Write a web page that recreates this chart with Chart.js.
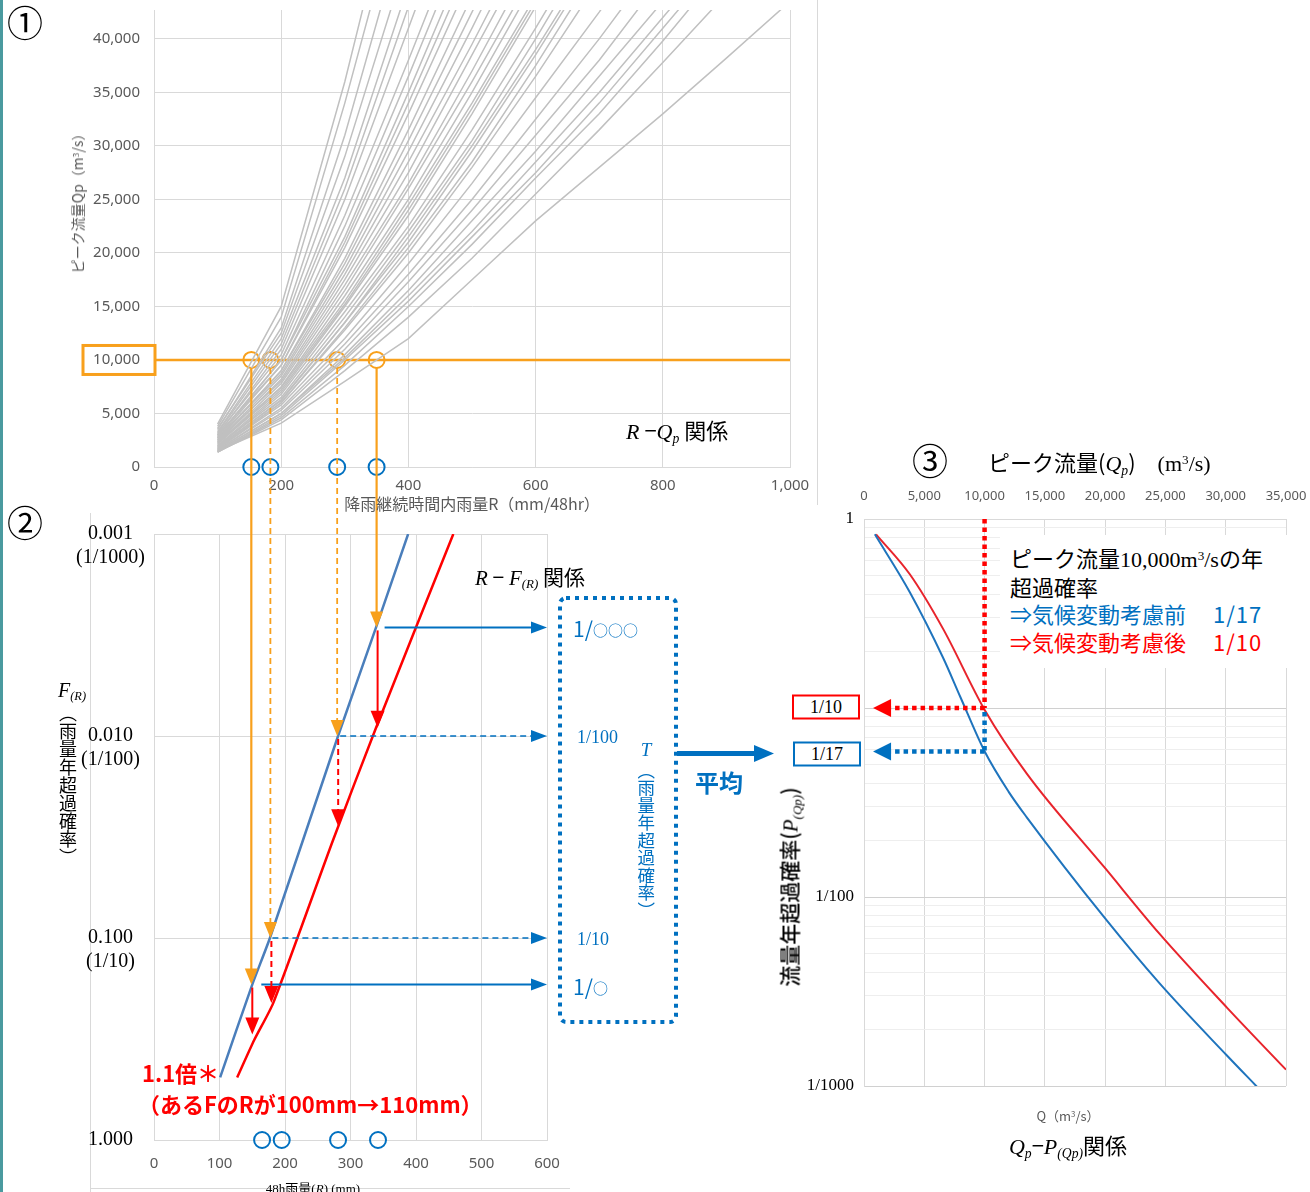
<!DOCTYPE html>
<html><head><meta charset="utf-8">
<script src="https://cdn.jsdelivr.net/npm/chart.js@4/dist/chart.umd.min.js"></script>
<style>
html,body{margin:0;padding:0;background:#fff;}
#root{position:relative;width:1310px;height:1192px;overflow:hidden;background:#fff;font-family:"Noto Sans CJK JP","Noto Sans",sans-serif;color:#000;}
canvas{position:absolute;}
.t{position:absolute;white-space:nowrap;line-height:1;}
.c{transform:translate(-50%,-50%);}
.lc{transform:translateY(-50%);}
.rot{transform:translate(-50%,-50%) rotate(-90deg);}
.v{writing-mode:vertical-rl;transform:translate(-50%,-50%);}
.serif{font-family:"Liberation Serif","Noto Sans CJK JP",serif;}
sub{font-size:0.62em;vertical-align:-0.3em;line-height:0;}
sup{font-size:0.6em;vertical-align:0.5em;line-height:0;}
</style></head>
<body><div id="root">
<div style="position:absolute;left:0;top:0;width:3px;height:1192px;background:#4a9a9f"></div>
<div style="position:absolute;left:817px;top:0;width:1px;height:505px;background:#d9d9d9"></div>
<div style="position:absolute;left:90px;top:513px;width:1px;height:679px;background:#d9d9d9"></div>
<div style="position:absolute;left:90px;top:1188px;width:480px;height:1px;background:#d9d9d9"></div>
<canvas id="c1" width="817" height="510" style="left:0;top:0"></canvas>
<canvas id="c2" width="560" height="677" style="left:0;top:515px"></canvas>
<canvas id="c3" width="540" height="722" style="left:770px;top:470px"></canvas>
<canvas id="ov" width="1310" height="1192" style="left:0;top:0;pointer-events:none"></canvas>
</div>
<script>
// ---------- ① R - Qp ----------
const rqRain = [100, 200, 300, 400, 500, 600, 700, 800, 900, 1000];
const rqCurves = [
  [4000, 15000, 36000, 60000],
  [3800, 14000, 34000, 56000],
  [3500, 13000, 31000, 52000],
  [3600, 12500, 29000, 48000],
  [3300, 12000, 27000, 45000],
  [3200, 11500, 26000, 43000],
  [3000, 11000, 25000, 41000, 57000],
  [3100, 10500, 23500, 38000, 53000],
  [2900, 10000, 22500, 36500, 51000],
  [2800, 10000, 21500, 35000, 49000],
  [3000, 9500, 21000, 34000, 47500],
  [2700, 9500, 20500, 33000, 46000],
  [2600, 9000, 19500, 31500, 44000],
  [2500, 9000, 19000, 30500, 42500, 55000],
  [2700, 8700, 18500, 29500, 41000, 53000],
  [2400, 8500, 18000, 28500, 39500, 51000],
  [2300, 8200, 17500, 27500, 38500, 49500],
  [2500, 8000, 17000, 26500, 37000, 48000],
  [2200, 7800, 16500, 26000, 36000, 46500],
  [2100, 7500, 16000, 25000, 35000, 45500],
  [2300, 7400, 15500, 24500, 34000, 44000],
  [2000, 7000, 15000, 23500, 33000, 43000],
  [2200, 7200, 15200, 24000, 33500, 43500],
  [1900, 6800, 14500, 22500, 31500, 41000, 51000],
  [2000, 6500, 14000, 22000, 30500, 40000, 50000],
  [1800, 6300, 13500, 21500, 30000, 39000, 48500],
  [1900, 6200, 13500, 21000, 29500, 38500, 48000],
  [1700, 6000, 13000, 20500, 28500, 37500, 47000],
  [1800, 6000, 12800, 20000, 28000, 36500, 45500],
  [1700, 5800, 12000, 19000, 26500, 34500, 42500, 51000],
  [1600, 5500, 11500, 18000, 25000, 32500, 40000, 48000],
  [1600, 5300, 11000, 17300, 24000, 31000, 38000, 45800],
  [1500, 5000, 10500, 16500, 23000, 29500, 36500, 43500],
  [1500, 5000, 10200, 16000, 22000, 28500, 35000, 42000, 49000],
  [1400, 4800, 10000, 15500, 21500, 27500, 34000, 41000, 48000],
  [1400, 4600, 9500, 15000, 20800, 27000, 33000, 39800, 47000],
  [1400, 4400, 9000, 14000, 19500, 25500, 31500, 37800, 44200],
  [1500, 4100, 8000, 12000, 17500, 23000, 28000, 33000, 38200, 43500]
];
const qpThreshold = 10000;
const qpTicks = [0, 5000, 10000, 15000, 20000, 25000, 30000, 35000, 40000];
const crossRain = [153, 183, 288, 350];
const crossDashed = [false, true, true, false];

// ---------- ② R - F(R) ----------
const rfRainBefore = [101, 150, 177, 281, 339, 388];
const rfProbBefore = [0.49, 0.17, 0.1, 0.01, 0.0029, 0.001];
const rfRainAfter = [127, 153, 182, 273, 339, 457];
const rfProbAfter = [0.49, 0.32, 0.21, 0.033, 0.0091, 0.001];
const fAtCross = [0.17, 0.1, 0.01, 0.0029];
const fAfterAtCross = [0.3, 0.21, 0.028, 0.0091];
const fBoxLabels = ['1/○', '1/10', '1/100', '1/○○○'];
const bottomCircleRain = [165, 195, 281, 342];
const fTicks = [0.001, 0.01, 0.1, 1];
const fTickLabels = [['0.001', '(1/1000)'], ['0.010', '(1/100)'], ['0.100', '(1/10)'], ['1.000', '']];

// ---------- ③ Qp - P(Qp) ----------
const qpBefore = [900, 3800, 6550, 8000, 10000, 12000, 13500, 20000, 24500, 30100, 32600];
const pBefore = [0.83, 0.41, 0.185, 0.114, 0.059, 0.036, 0.0264, 0.0077, 0.0035, 0.00145, 0.00099];
const qpAfter = [1000, 3800, 6550, 10000, 13500, 20000, 24500, 30100, 35000];
const pAfter = [0.83, 0.51, 0.263, 0.098, 0.045, 0.0142, 0.0064, 0.0026, 0.00122];
const pTicksMajor = [0.001, 0.01, 0.1, 1];
const pTickLabels = ['1/1000', '1/100', '', '1'];
const pBoxValues = [1 / 10, 1 / 17];
const pBoxLabels = ['1/10', '1/17'];
const qpArrowEnd = 750;

// ---------- styles ----------
const SANS = '"Noto Sans","Noto Sans CJK JP",sans-serif';
const SERIF = '"Liberation Serif","Noto Sans CJK JP",serif';
const GREYTXT = '#595959';
const GRID = '#d9d9d9';
const ORANGE = '#f8a01c';
const BLUE = '#0070c0';
const RED = '#ff0000';
const fmt = v => Number(v).toLocaleString('en-US');
function fixW(w) { return s => { s.width = w; s.paddingTop = 0; s.paddingBottom = 0; s.paddingLeft = 0; s.paddingRight = 0; }; }
function fixH(h) { return s => { s.height = h; s.paddingTop = 0; s.paddingBottom = 0; s.paddingLeft = 0; s.paddingRight = 0; }; }
const baseOpts = { responsive: false, animation: false, events: [], plugins: { legend: { display: false }, tooltip: { enabled: false } } };
function circles(points, color) {
  return { data: points, showLine: false, pointRadius: 8, pointBorderWidth: 2, borderColor: color, backgroundColor: 'rgba(0,0,0,0)', pointBackgroundColor: 'rgba(0,0,0,0)', pointBorderColor: color, clip: false };
}

// chart 1
const c1 = new Chart(document.getElementById('c1'), {
  type: 'scatter',
  data: { datasets: [
    ...rqCurves.map(vals => ({ data: vals.map((v, i) => ({ x: rqRain[i], y: v })), showLine: true, borderColor: '#c0c0c0', borderWidth: 1.5, pointRadius: 0 })),
    { data: [{ x: 0, y: qpThreshold }, { x: 1000, y: qpThreshold }], showLine: true, borderColor: ORANGE, borderWidth: 2.5, pointRadius: 0 },
    circles(crossRain.map(r => ({ x: r, y: qpThreshold })), ORANGE),
    circles(crossRain.map(r => ({ x: r, y: 0 })), BLUE)
  ] },
  options: Object.assign({}, baseOpts, {
    layout: { padding: { left: 0, top: 8, right: 27, bottom: 0 } },
    scales: {
      x: { type: 'linear', min: 0, max: 1000, ticks: { stepSize: 200, color: GREYTXT, font: { size: 15, family: SANS }, padding: 10, maxRotation: 0, callback: fmt }, grid: { color: GRID, drawTicks: false }, border: { color: GRID }, afterFit: fixH(43) },
      y: { type: 'linear', min: 0, max: 42700, afterBuildTicks: s => { s.ticks = qpTicks.map(v => ({ value: v })); }, ticks: { color: GREYTXT, font: { size: 15, family: SANS }, padding: 14, callback: fmt }, grid: { color: GRID, drawTicks: false }, border: { color: GRID }, afterFit: fixW(154) }
    }
  })
});

// chart 2
const c2 = new Chart(document.getElementById('c2'), {
  type: 'scatter',
  data: { datasets: [
    { data: rfRainBefore.map((r, i) => ({ x: r, y: rfProbBefore[i] })), showLine: true, borderColor: '#4a7ebb', borderWidth: 2.5, pointRadius: 0, tension: 0.2 },
    { data: rfRainAfter.map((r, i) => ({ x: r, y: rfProbAfter[i] })), showLine: true, borderColor: RED, borderWidth: 2.5, pointRadius: 0, tension: 0.2 },
    circles(bottomCircleRain.map(r => ({ x: r, y: 1 })), BLUE)
  ] },
  options: Object.assign({}, baseOpts, {
    layout: { padding: { left: 0, top: 19, right: 13, bottom: 0 } },
    scales: {
      x: { type: 'linear', min: 0, max: 600, ticks: { stepSize: 100, color: GREYTXT, font: { size: 15, family: SANS }, padding: 15, maxRotation: 0 }, grid: { color: GRID, drawTicks: false }, border: { color: GRID }, afterFit: fixH(52) },
      y: { type: 'logarithmic', min: 0.001, max: 1, reverse: true, afterBuildTicks: s => { s.ticks = fTicks.map(v => ({ value: v })); },
           ticks: { autoSkip: false, callback: (v, i) => fTickLabels[i], color: '#000', font: { size: 20, family: SERIF, lineHeight: 1.2 }, crossAlign: 'center', padding: 9, labelOffset: 12 },
           grid: { color: GRID, drawTicks: false }, border: { color: GRID }, afterFit: fixW(154) }
    }
  })
});

// chart 3
const pGrid = [];
pTicksMajor.slice(0, 3).forEach(d => { for (let k = 1; k <= 9; k++) pGrid.push(+(d * k).toPrecision(3)); });
pGrid.push(1);
const c3 = new Chart(document.getElementById('c3'), {
  type: 'scatter',
  data: { datasets: [
    { data: qpBefore.map((q, i) => ({ x: q, y: pBefore[i] })), showLine: true, borderColor: '#1f74bd', borderWidth: 2, pointRadius: 0, cubicInterpolationMode: 'monotone' },
    { data: qpAfter.map((q, i) => ({ x: q, y: pAfter[i] })), showLine: true, borderColor: '#e8242c', borderWidth: 2, pointRadius: 0, cubicInterpolationMode: 'monotone' }
  ] },
  options: Object.assign({}, baseOpts, {
    layout: { padding: { left: 0, top: 0, right: 24, bottom: 106 } },
    scales: {
      x: { type: 'linear', position: 'top', min: 0, max: 35000, ticks: { stepSize: 5000, color: GREYTXT, font: { size: 13, family: SANS }, padding: 15, maxRotation: 0, callback: fmt }, grid: { color: GRID, drawTicks: false }, border: { color: GRID }, afterFit: fixH(49) },
      y: { type: 'logarithmic', min: 0.001, max: 1, afterBuildTicks: s => { s.ticks = pGrid.map(v => ({ value: v })); },
           ticks: { autoSkip: false, callback: v => { const i = pTicksMajor.indexOf(v); return i >= 0 ? pTickLabels[i] : ''; }, color: '#000', font: { size: 17, family: SERIF }, padding: 10 },
           grid: { color: ctx => (ctx.tick && pTicksMajor.includes(ctx.tick.value)) ? '#d0d0d0' : '#eeeeee', drawTicks: false }, border: { color: GRID }, afterFit: fixW(94) }
    }
  })
});

// ---------- overlay (arrows / guides) ----------
const C2TOP = 515, C3LEFT = 770, C3TOP = 470;
const x1 = r => c1.scales.x.getPixelForValue(r);
const y1 = q => c1.scales.y.getPixelForValue(q);
const x2 = r => c2.scales.x.getPixelForValue(r);
const y2 = f => C2TOP + c2.scales.y.getPixelForValue(f);
const x3 = q => C3LEFT + c3.scales.x.getPixelForValue(q);
const y3 = p => C3TOP + c3.scales.y.getPixelForValue(p);
const ov = document.getElementById('ov').getContext('2d');
function seg(xa, ya, xb, yb, color, w, dash) {
  ov.save(); ov.beginPath(); ov.strokeStyle = color; ov.lineWidth = w; ov.setLineDash(dash || []); ov.lineCap = 'butt';
  ov.moveTo(xa, ya); ov.lineTo(xb, yb); ov.stroke(); ov.restore();
}
function head(x, y, dir, len, half, color) {
  ov.beginPath();
  if (dir === 'down') { ov.moveTo(x, y); ov.lineTo(x - half, y - len); ov.lineTo(x + half, y - len); }
  else if (dir === 'right') { ov.moveTo(x, y); ov.lineTo(x - len, y - half); ov.lineTo(x - len, y + half); }
  else { ov.moveTo(x, y); ov.lineTo(x + len, y - half); ov.lineTo(x + len, y + half); }
  ov.closePath(); ov.fillStyle = color; ov.fill();
}
// orange frame round the 10,000 tick label
ov.strokeStyle = ORANGE; ov.lineWidth = 3; ov.strokeRect(83, y1(qpThreshold) - 14.5, 72, 29);
const blueStart = [10, 2, 3, 8];
const rightEnd = x2(600);
crossRain.forEach((r, i) => {
  const x = x1(r);
  const dash = crossDashed[i] ? [6, 4] : [];
  const yTop = y1(qpThreshold) + 8;
  const yTip = y2(fAtCross[i]);
  seg(x, yTop, x, yTip - 14, ORANGE, crossDashed[i] ? 1.8 : 2.2, dash);
  head(x, yTip, 'down', 16, 6.5, ORANGE);
  const yRed = y2(fAfterAtCross[i]);
  seg(x + 1, yTip + 3, x + 1, yRed - 14, RED, 2, crossDashed[i] ? [6, 4] : []);
  head(x + 1, yRed, 'down', 17, 7, RED);
  seg(x + blueStart[i], yTip, rightEnd - 14, yTip, BLUE, crossDashed[i] ? 1.6 : 2, crossDashed[i] ? [6, 4] : []);
  head(rightEnd, yTip, 'right', 16, 6, BLUE);
});
// dotted frame for T
ov.save(); ov.strokeStyle = BLUE; ov.lineWidth = 4; ov.setLineDash([4, 5]);
ov.beginPath(); if (ov.roundRect) ov.roundRect(560, 598, 116, 424, 6); else ov.rect(560, 598, 116, 424); ov.stroke(); ov.restore();
// thick arrow to chart 3
const yAvg = y3(pBoxValues[1]) + 2;
seg(677, yAvg, 754, yAvg, BLUE, 5);
head(774, yAvg, 'right', 20, 8.5, BLUE);
// chart 3 guides
const xq = x3(qpThreshold);
seg(xq, y3(1), xq, y3(pBoxValues[0]), RED, 4.5, [4.5, 4]);
seg(xq, y3(pBoxValues[0]), x3(qpArrowEnd) + 17, y3(pBoxValues[0]), RED, 4.5, [4.5, 4]);
head(x3(qpArrowEnd), y3(pBoxValues[0]), 'left', 18, 9, RED);
seg(xq, y3(pBoxValues[0]) + 4, xq, y3(pBoxValues[1]), BLUE, 4.5, [4.5, 4]);
seg(xq, y3(pBoxValues[1]), x3(qpArrowEnd) + 17, y3(pBoxValues[1]), BLUE, 4.5, [4.5, 4]);
head(x3(qpArrowEnd), y3(pBoxValues[1]), 'left', 18, 9, BLUE);

// ---------- texts ----------
const root = document.getElementById('root');
function txt(html, x, y, cls, style) {
  const d = document.createElement('div');
  d.className = 't ' + (cls || '');
  d.innerHTML = html;
  d.style.left = x + 'px'; d.style.top = y + 'px';
  Object.assign(d.style, style || {});
  root.appendChild(d); return d;
}
txt('①', 25, 21, 'c', { fontSize: '36px' });
txt('②', 25, 521, 'c', { fontSize: '36px' });
txt('③', 930, 459, 'c', { fontSize: '36px' });
// chart 1
txt('ピーク流量Qp（m<sup>3</sup>/s）', 77, 200, 'rot', { fontSize: '14px', color: GREYTXT });
txt('降雨継続時間内雨量R（mm/48hr）', 472, 503, 'c', { fontSize: '16px', color: GREYTXT });
txt('<i class="serif">R</i> −<i class="serif">Q<sub>p</sub></i> 関係', 626, 430, 'lc', { fontSize: '22px' });
// chart 2
txt('<i class="serif">R</i> − <i class="serif">F<sub>(R)</sub></i> 関係', 475, 577, 'lc', { fontSize: '21px' });
txt('<i class="serif">F<sub>(R)</sub></i>', 72, 689, 'c', { fontSize: '20px' });
txt('（雨量年超過確率）', 68, 785, 'v', { fontSize: '18px' });
fAtCross.forEach((f, i) => {
  const lab = fBoxLabels[i];
  const isSerif = lab.indexOf('○') < 0;
  const html = isSerif ? lab : lab.replace(/(○+)/, '<span style="font-size:15px;vertical-align:1px">$1</span>');
  txt(html, isSerif ? 577 : 573, y2(f) + 1, 'lc' + (isSerif ? ' serif' : ''), { fontSize: isSerif ? '18px' : '21px', color: BLUE });
});
txt('<i class="serif">T</i>', 646, 748, 'c', { fontSize: '19px', color: BLUE });
txt('（雨量年超過確率）', 646, 840, 'v', { fontSize: '17.5px', color: BLUE });
txt('平均', 719, 782, 'c', { fontSize: '24px', color: BLUE, fontWeight: 'bold' });
txt('1.1倍＊', 142, 1072, 'lc', { fontSize: '22px', color: RED, fontWeight: 'bold' });
txt('（あるFのRが100mm→110mm）', 138, 1103, 'lc', { fontSize: '22px', color: RED, fontWeight: 'bold' });
txt('48h雨量(<i>R</i>) (mm)', 313, 1188, 'c serif', { fontSize: '13px' });
// chart 3
txt('ピーク流量(<i class="serif">Q<sub>p</sub></i>)　<span class="serif">(m<sup>3</sup>/s)</span>', 988, 462, 'lc', { fontSize: '22px' });
txt('', 1000, 535, '', { width: '287px', height: '133px', background: '#fff' });
txt('ピーク流量<span class="serif">10,000m<sup>3</sup>/s</span>の年', 1010, 558, 'lc', { fontSize: '22px' });
txt('超過確率', 1010, 586, 'lc', { fontSize: '22px' });
txt('⇒気候変動考慮前', 1010, 613, 'lc', { fontSize: '22px', color: BLUE });
txt('1/17', 1213, 613, 'lc', { fontSize: '22px', color: BLUE, letterSpacing: '1px' });
txt('⇒気候変動考慮後', 1010, 641, 'lc', { fontSize: '22px', color: RED });
txt('1/10', 1213, 641, 'lc', { fontSize: '22px', color: RED, letterSpacing: '1px' });
pBoxValues.forEach((p, i) => {
  const col = i === 0 ? RED : BLUE;
  txt(pBoxLabels[i], 792 + i, y3(p) - 1 + i * 3, 'serif', { fontSize: '18px', border: '2px solid ' + col, width: '64px', height: '21px', lineHeight: '21px', textAlign: 'center', transform: 'translateY(-50%)', background: '#fff' });
});
txt('流量年超過確率(<i class="serif">P<sub>(Qp)</sub></i>)', 790, 887, 'rot', { fontSize: '21px', fontWeight: '500' });
txt('Q（m<sup>3</sup>/s）', 1068, 1115, 'c', { fontSize: '13px', color: GREYTXT });
txt('<i class="serif">Q<sub>p</sub></i>−<i class="serif">P<sub>(Qp)</sub></i>関係', 1068, 1145, 'c', { fontSize: '22px' });
</script>
</body></html>
